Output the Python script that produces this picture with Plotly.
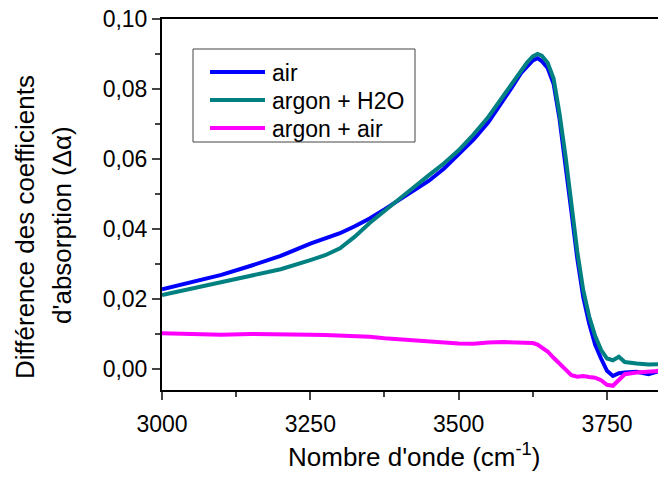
import plotly.graph_objects as go

wavenumber = [3000, 3050, 3100, 3150, 3200, 3250, 3275, 3300, 3325, 3350, 3375, 3400,
              3425, 3450, 3475, 3500, 3525, 3550, 3575, 3590, 3605, 3615, 3625, 3633,
              3640, 3650, 3660, 3670, 3680, 3690, 3700, 3710, 3720, 3730, 3740, 3750,
              3760, 3770, 3780, 3800, 3820, 3840]

air = [0.0228, 0.0248, 0.0269, 0.0295, 0.0323, 0.0358, 0.0372, 0.0388, 0.0408, 0.0430,
       0.0456, 0.0483, 0.0510, 0.0538, 0.0572, 0.0612, 0.0655, 0.0705, 0.0765, 0.0805,
       0.0845, 0.0865, 0.0882, 0.0888, 0.0880, 0.0860, 0.0815, 0.0715, 0.0590, 0.0450,
       0.0315, 0.0205, 0.0130, 0.0070, 0.0030, -0.0005, -0.0020, -0.0012, -0.0010,
       -0.0008, -0.0015, -0.0005]

argon_h2o = [0.0211, 0.0230, 0.0249, 0.0268, 0.0285, 0.0311, 0.0325, 0.0345, 0.0378,
             0.0417, 0.0452, 0.0488, 0.0520, 0.0554, 0.0587, 0.0625, 0.0670, 0.0720,
             0.0780, 0.0815, 0.0855, 0.0875, 0.0893, 0.0900, 0.0895, 0.0875, 0.0830,
             0.0730, 0.0610, 0.0470, 0.0335, 0.0225, 0.0150, 0.0095, 0.0055, 0.0030,
             0.0025, 0.0035, 0.0020, 0.0016, 0.0013, 0.0014]

argon_air = [0.0102, 0.0100, 0.0098, 0.0100, 0.0100, 0.0098, 0.0097, 0.0096, 0.0094,
             0.0092, 0.0088, 0.0085, 0.0082, 0.0078, 0.0075, 0.0073, 0.0072, 0.0076,
             0.0077, 0.0076, 0.0076, 0.0075, 0.0074, 0.0070, 0.0063, 0.0050, 0.0032,
             0.0015, 0.0000, -0.0018, -0.0022, -0.0020, -0.0023, -0.0025, -0.0032,
             -0.0045, -0.0048, -0.0030, -0.0015, -0.0010, -0.0008, -0.0005]

series_names = ["air", "argon + H2O", "argon + air"]
series_colors = ["#0000FF", "#008080", "#FF00FF"]

x_ticks = [3000, 3250, 3500, 3750]
y_ticks = [0.00, 0.02, 0.04, 0.06, 0.08, 0.10]
y_ticktext = ["0,00", "0,02", "0,04", "0,06", "0,08", "0,10"]

FONT = "Liberation Sans, Arial, sans-serif"

fig = go.Figure()
for name, ys, col in zip(series_names, [air, argon_h2o, argon_air], series_colors):
    fig.add_trace(go.Scatter(x=wavenumber, y=ys, mode="lines", name=name,
                             line=dict(color=col, width=4), showlegend=False))

W, H = 658, 477
L, R, T, B = 162, 0, 19, 87
pw, ph = W - L - R, H - T - B

def px(xp):
    return (xp - L) / pw

def py(yp):
    return (H - B - yp) / ph

fig.update_layout(
    width=W, height=H,
    margin=dict(l=L, r=R, t=T, b=B),
    plot_bgcolor="white", paper_bgcolor="white",
    font=dict(family=FONT, color="black"),
    showlegend=False,
    xaxis=dict(range=[3000, 3836], tickvals=x_ticks, ticks="outside", ticklen=8,
               tickwidth=2, showline=True, linewidth=2, linecolor="black",
               mirror=True, showgrid=False, zeroline=False, ticklabelstandoff=4,
               tickfont=dict(size=23, family=FONT),
               minor=dict(dtick=125, tick0=3000, ticks="outside", ticklen=5,
                          tickwidth=2, showgrid=False)),
    yaxis=dict(range=[-0.006, 0.100], tickvals=y_ticks, ticktext=y_ticktext,
               ticks="outside", ticklen=8, tickwidth=2, showline=True, linewidth=2,
               linecolor="black", mirror=False, showgrid=False, zeroline=False,
               tickfont=dict(size=23, family=FONT),
               minor=dict(dtick=0.01, tick0=0, ticks="outside", ticklen=5,
                          tickwidth=2, showgrid=False)),
)

# legend box drawn as shapes + text (to match the reference's compact rows)
fig.add_shape(type="rect", xref="paper", yref="paper",
              x0=px(193), x1=px(415), y0=py(142), y1=py(49),
              line=dict(color="#444", width=1), fillcolor="white", layer="above")
row_y = [72, 100, 128]
for name, col, ry in zip(series_names, series_colors, row_y):
    fig.add_shape(type="line", xref="paper", yref="paper",
                  x0=px(210), x1=px(265), y0=py(ry), y1=py(ry),
                  line=dict(color=col, width=4), layer="above")
    fig.add_annotation(text=name, xref="paper", yref="paper",
                       x=px(270), y=py(ry + 1), xanchor="left", yanchor="middle",
                       showarrow=False, font=dict(size=23, family=FONT))

fig.add_annotation(text="Nombre d'onde (cm<sup>-1</sup>)", xref="paper", yref="paper",
                   x=px(414), y=py(455), xanchor="center", yanchor="middle",
                   showarrow=False, font=dict(size=26, family=FONT))
fig.add_annotation(text="Différence des coefficients", xref="paper", yref="paper",
                   x=px(25), y=py(227), xanchor="center", yanchor="middle",
                   textangle=-90, showarrow=False, font=dict(size=26, family=FONT))
fig.add_annotation(text="d'absorption (Δα)", xref="paper", yref="paper",
                   x=px(62), y=py(225), xanchor="center", yanchor="middle",
                   textangle=-90, showarrow=False, font=dict(size=26, family=FONT))

fig.write_html("out.html", config={"displayModeBar": False},
               post_script="document.body.style.margin='0';document.body.style.overflow='hidden';")
